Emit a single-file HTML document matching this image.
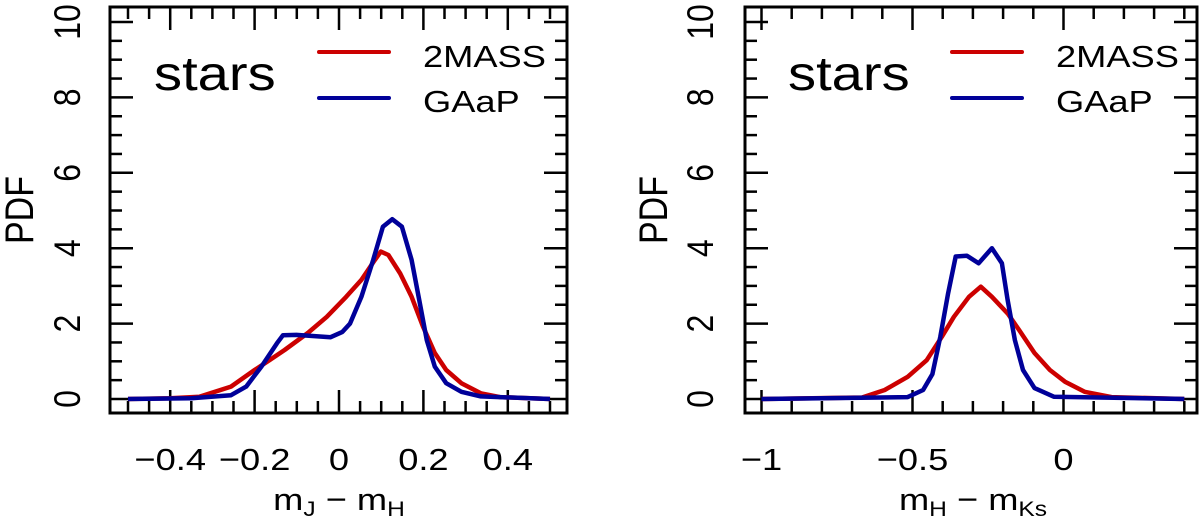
<!DOCTYPE html>
<html><head><meta charset="utf-8"><style>
html,body{margin:0;padding:0;background:#fff;}
svg{display:block;font-family:"Liberation Sans",sans-serif;}
</style></head><body>
<svg id="chart" width="1200" height="523" viewBox="0 0 1200 523" xmlns="http://www.w3.org/2000/svg"></svg>
<script>
// Left panel data (m_J - m_H)
const leftRedX = [-0.5,-0.4,-0.33,-0.256,-0.2,-0.165,-0.129,-0.074,-0.029,0.017,0.053,0.085,0.099,0.117,0.145,0.172,0.199,0.227,0.254,0.29,0.336,0.381,0.5];
const leftRedY = [0,0.02,0.06,0.33,0.77,1.03,1.3,1.75,2.18,2.71,3.16,3.69,3.91,3.82,3.33,2.71,1.92,1.22,0.77,0.42,0.15,0.05,0];
const leftBlueX = [-0.5,-0.35,-0.256,-0.22,-0.184,-0.147,-0.133,-0.101,-0.02,0.008,0.026,0.053,0.081,0.104,0.126,0.149,0.172,0.19,0.208,0.227,0.254,0.29,0.336,0.5];
const leftBlueY = [0,0.02,0.1,0.33,0.86,1.48,1.69,1.7,1.64,1.78,2.0,2.71,3.69,4.57,4.77,4.57,3.69,2.63,1.56,0.86,0.42,0.19,0.07,0];
// Right panel data (m_H - m_Ks)
const rightRedX = [-1,-0.667,-0.592,-0.516,-0.453,-0.403,-0.363,-0.313,-0.274,-0.237,-0.185,-0.147,-0.096,-0.045,0.005,0.07,0.159,0.4];
const rightRedY = [0,0.04,0.24,0.59,1.03,1.65,2.18,2.71,2.98,2.71,2.27,1.83,1.22,0.77,0.46,0.19,0.05,0];
const rightBlueX = [-1,-0.516,-0.465,-0.434,-0.408,-0.382,-0.357,-0.32,-0.281,-0.237,-0.204,-0.185,-0.161,-0.134,-0.096,-0.032,0.4];
const rightBlueY = [0,0.05,0.24,0.66,1.65,2.8,3.78,3.8,3.6,4.0,3.6,2.63,1.56,0.77,0.29,0.06,0];
const leftXTicks = [-0.4,-0.2,0,0.2,0.4];
const leftXTickLabels = ["\u22120.4","\u22120.2","0","0.2","0.4"];
const rightXTicks = [-1,-0.5,0];
const rightXTickLabels = ["\u22121","\u22120.5","0"];
const yTicks = [0,2,4,6,8,10];
const yTickLabels = ["0","2","4","6","8","10"];

const NS="http://www.w3.org/2000/svg";
const svg=document.getElementById('chart');
function mk(tag,attrs,parent){const e=document.createElementNS(NS,tag);for(const k in attrs)e.setAttribute(k,attrs[k]);(parent||svg).appendChild(e);return e;}
const SX=1.17;
function txt(x,y,s,size,anchor,parent,rot){
  const g=mk('g',{transform:rot?`translate(${x},${y}) scale(${SX},1) rotate(-90)`:`translate(${x},${y}) scale(${SX},1)`},parent);
  const t=mk('text',{x:0,y:0,'font-size':size,'text-anchor':anchor||'middle',fill:'#000'},g);
  t.textContent=s;return t;
}
function panel(cfg){
  const g=mk('g',{});
  
  
  const xs=v=>cfg.x0+cfg.kx*v, ys=v=>399-37.7*v;
  const L=cfg.L,R=cfg.R,T=7,B=413;
  const tg=mk('g',{stroke:'#000','stroke-width':2.5},g);
  
  
  for(let v=0;v<=10.001;v+=0.5){const major=Math.abs(v/2-Math.round(v/2))<1e-6;const len=major?23:12;const y=ys(v);
    mk('line',{x1:L,y1:y,x2:L+len,y2:y},tg);mk('line',{x1:R,y1:y,x2:R-len,y2:y},tg);}
  for(let i=0;i<=cfg.nMinor;i++){const v=cfg.xmin+i*cfg.minorStep;const major=cfg.xTicks.some(t=>Math.abs(t-v)<1e-6);const len=major?23:12;const x=xs(v);
    mk('line',{x1:x,y1:B,x2:x,y2:B-len},tg);mk('line',{x1:x,y1:T,x2:x,y2:T+len},tg);}
  mk('rect',{x:L,y:T,width:R-L,height:B-T,fill:'none',stroke:'#000','stroke-width':3},g);
  cfg.xTicks.forEach((v,i)=>{const t=txt(xs(v),470,cfg.xLabels[i],31,'middle',g);
    
    });
  yTicks.forEach((v,i)=>{const t=txt(cfg.yLabX,ys(v),yTickLabels[i],32,'middle',g,true);
    
    });
  const yt=txt(cfg.pdfX,210,'PDF',34,'middle',g,true);
  
  
  const xg=mk('g',{transform:`translate(${cfg.xTitleX},510) scale(${SX},1)`},g);
  const xt=mk('text',{x:0,y:0,'font-size':31,'text-anchor':'middle'},xg);
  
  
  xt.innerHTML=`m<tspan font-size="21" dy="6">${cfg.sub1}</tspan><tspan dy="-6"> \u2212 m</tspan><tspan font-size="21" dy="6">${cfg.sub2}</tspan>`;
  function curve(X,Y,color,name){const p=mk('polyline',{points:X.map((x,i)=>xs(x).toFixed(1)+','+ys(Y[i]).toFixed(1)).join(' '),fill:'none',stroke:color,'stroke-width':4.5,'stroke-linejoin':'round'},g);
    
    }
  curve(cfg.rx,cfg.ry,'#cc0000','series-2mass');
  curve(cfg.bx,cfg.by,'#000099','series-gaap');
  const st=txt(cfg.starsX,90,'stars',48,'start',g);
  
  
  const lg=mk('g',{},g);
  
  
  mk('line',{x1:cfg.legX,y1:52,x2:cfg.legX+70,y2:52,stroke:'#cc0000','stroke-width':4,'stroke-linecap':'round'},lg);
  mk('line',{x1:cfg.legX,y1:98,x2:cfg.legX+70,y2:98,stroke:'#000099','stroke-width':4,'stroke-linecap':'round'},lg);
  const a=txt(cfg.legX+104,67,'2MASS',31,'start',lg);
  
  
  const b=txt(cfg.legX+104,112,'GAaP',31,'start',lg);
  
  
}
panel({name:'left-panel',x0:339,kx:422,L:110,R:567,xmin:-0.5,minorStep:0.05,nMinor:20,xTicks:leftXTicks,xLabels:leftXTickLabels,
  yLabX:80,pdfX:33,xTitleX:339,sub1:'J',sub2:'H',rx:leftRedX,ry:leftRedY,bx:leftBlueX,by:leftBlueY,starsX:154,legX:319});
panel({name:'right-panel',x0:1063.5,kx:302,L:745,R:1197,xmin:-1,minorStep:0.1,nMinor:14,xTicks:rightXTicks,xLabels:rightXTickLabels,
  yLabX:713,pdfX:667,xTitleX:973,sub1:'H',sub2:'Ks',rx:rightRedX,ry:rightRedY,bx:rightBlueX,by:rightBlueY,starsX:788,legX:952});
</script>
</body></html>
